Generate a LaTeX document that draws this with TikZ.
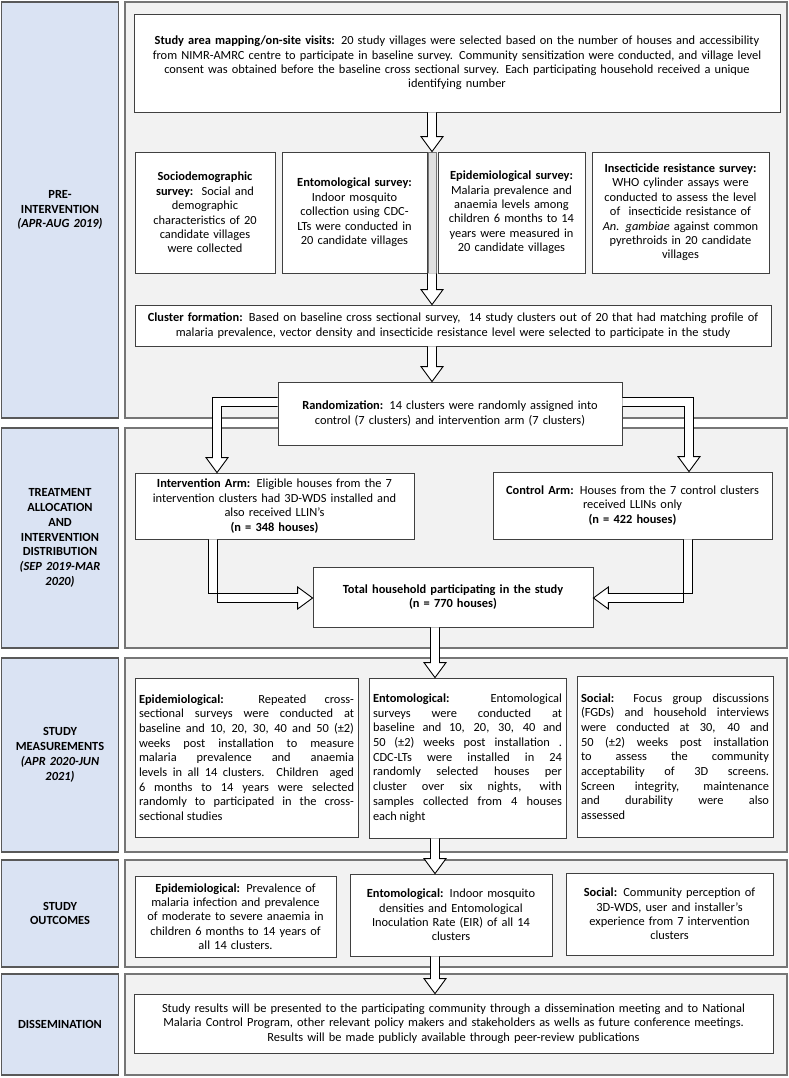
\documentclass[tikz,border=0pt]{standalone}
\usepackage{fontspec}
\setmainfont{Carlito}
\usepackage{tikz}
\usetikzlibrary{shapes,arrows,positioning,calc}
\definecolor{lanefill}{RGB}{218,227,243}
\definecolor{lanedraw}{RGB}{89,89,89}
\definecolor{panelfill}{RGB}{242,242,242}
\definecolor{paneldraw}{RGB}{118,118,118}
\definecolor{boxdraw}{RGB}{64,64,64}
% hollow block arrow pointing down, from #1 to #2 (same x)
\newcommand{\dnarrow}[2]{%
  \draw[blk] ($(#1)+(-4.5,0)$) -- ($(#2)+(-4.5,-15)$) -- ++(-6.5,0) -- (#2)
    -- ++(11,-15) -- ++(-6.5,0) -- ($(#1)+(4.5,0)$);}

\begin{document}
\begin{tikzpicture}[x=1pt, y=-1pt,
    lane/.style={draw=lanedraw, fill=lanefill, line width=1.5pt, align=center,
      text width=110pt, font=\fontsize{12.4}{14.8}\selectfont\bfseries},
    panel/.style={draw=paneldraw, fill=panelfill, line width=1.5pt},
    box/.style={draw=boxdraw, fill=white, line width=0.8pt, align=center,
      inner xsep=4pt, font=\fontsize{12.4}{14.4}\selectfont},
    jbox/.style={box, align=justify, font=\fontsize{12.4}{14.7}\selectfont,
      execute at begin node={\hyphenpenalty=10000\relax}},
    blk/.style={draw=black, fill=white, line width=0.9pt, line join=miter}]

  \useasboundingbox (0,0) rectangle (789,1078);

  % phase labels (left column)
  \node[lane, minimum width=116pt, minimum height=416pt] (l1) at (60,210)
    {PRE-\\ INTERVENTION\\ \textit{(APR-AUG 2019)}};
  \node[lane, minimum width=116pt, minimum height=220pt] (l2) at (60,538)
    {TREATMENT\\ ALLOCATION\\ AND\\ INTERVENTION\\ DISTRIBUTION\\ \textit{(SEP 2019-MAR}\\ \textit{2020)}};
  \node[lane, minimum width=116pt, minimum height=194pt] (l3) at (60,755)
    {STUDY\\ MEASUREMENTS\\ \textit{(APR 2020-JUN}\\ \textit{2021)}};
  \node[lane, minimum width=116pt, minimum height=107pt] (l4) at (60,913.5)
    {STUDY\\ OUTCOMES};
  \node[lane, minimum width=116pt, minimum height=101pt] (l5) at (60,1024.5)
    {DISSEMINATION};

  % grey panels
  \node[panel, minimum width=662pt, minimum height=416pt] (p1) at (456,210) {};
  \node[panel, minimum width=662pt, minimum height=220pt] (p2) at (456,538) {};
  \node[panel, minimum width=662pt, minimum height=194pt] (p3) at (456,755) {};
  \node[panel, minimum width=662pt, minimum height=107pt] (p4) at (456,913.5) {};
  \node[panel, minimum width=662pt, minimum height=101pt] (p5) at (456,1024.5) {};

  % pre-intervention
  \node[box, minimum width=646pt, minimum height=98pt, text width=638pt] (map) at (457,63)
    {\textbf{Study area mapping/on-site visits:} 20 study villages were selected based on the number of houses and accessibility\\
     from NIMR-AMRC centre to participate in baseline survey. Community sensitization were conducted, and village level\\
     consent was obtained before the baseline cross sectional survey. Each participating household received a unique\\
     identifying number};
  \node[box, minimum width=140pt, minimum height=121pt, text width=132pt] (socio) at (205,212.5)
    {\textbf{Sociodemographic}\\ \textbf{survey:}\ \ Social and\\ demographic\\ characteristics of 20\\ candidate villages\\ were collected};
  \node[box, minimum width=145pt, minimum height=121pt, text width=137pt] (ento) at (354.5,212.5)
    {\textbf{Entomological survey:}\\ Indoor mosquito\\ collection using CDC-\\ LTs were conducted in\\ 20 candidate villages};
  \node[draw=paneldraw, fill=black!12, line width=0.6pt, minimum width=8pt, minimum height=121pt,
    inner sep=0pt] (gap) at (432,212.5) {};
  \node[box, minimum width=147pt, minimum height=121pt, text width=139pt] (epi) at (511.5,212.5)
    {\textbf{Epidemiological survey:}\\ Malaria prevalence and\\ anaemia levels among\\ children 6 months to 14\\ years were measured in\\ 20 candidate villages};
  \node[box, minimum width=177pt, minimum height=121pt, text width=169pt] (insect) at (680.5,212.5)
    {\textbf{Insecticide resistance survey:}\\ WHO cylinder assays were\\ conducted to assess the level\\ of\ \ insecticide resistance of\\ \textit{An. gambiae} against common\\ pyrethroids in 20 candidate\\ villages};
  \node[box, minimum width=636pt, minimum height=41pt, text width=628pt] (cluster) at (453,325.5)
    {\textbf{Cluster formation:} Based on baseline cross sectional survey,\ \ 14 study clusters out of 20 that had matching profile of\\
     malaria prevalence, vector density and insecticide resistance level were selected to participate in the study};
  \node[box, minimum width=344pt, minimum height=63pt, text width=336pt] (rand) at (450,413.5)
    {\textbf{Randomization:} 14 clusters were randomly assigned into\\ control (7 clusters) and intervention arm (7 clusters)};

  % allocation
  \node[box, minimum width=279pt, minimum height=66pt, text width=271pt] (interv) at (274.5,506)
    {\textbf{Intervention Arm:} Eligible houses from the 7\\ intervention clusters had 3D-WDS installed and\\ also received LLIN’s\\ \textbf{(n = 348 houses)}};
  \node[box, minimum width=279pt, minimum height=67pt, text width=271pt] (control) at (632.5,505.5)
    {\textbf{Control Arm:} Houses from the 7 control clusters\\ received LLINs only\\ \textbf{(n = 422 houses)}};
  \node[box, minimum width=280pt, minimum height=60pt, text width=272pt] (total) at (453,597)
    {\textbf{Total household participating in the study}\\ \textbf{(n = 770 houses)}};

  % measurements
  \node[jbox, minimum width=223pt, minimum height=159pt, text width=215pt] (mepi) at (246.5,757.5)
    {\textbf{Epidemiological:} Repeated cross-\linebreak sectional surveys were conducted at\linebreak
     baseline and 10, 20, 30, 40 and 50 (±2)\linebreak weeks post installation to measure\linebreak
     malaria prevalence and anaemia\linebreak levels in all 14 clusters. Children\ \ aged\linebreak
     6 months to 14 years were selected\linebreak randomly to participated in the cross-\linebreak sectional studies};
  \node[jbox, minimum width=197pt, minimum height=160pt, text width=189pt] (mento) at (467.5,758)
    {\textbf{Entomological:} Entomological\linebreak surveys were conducted at\linebreak
     baseline and 10, 20, 30, 40 and\linebreak 50 (±2) weeks post installation .\linebreak
     CDC-LTs were installed in 24\linebreak randomly selected houses per\linebreak
     cluster over six nights, with\linebreak samples collected from 4 houses\linebreak each night};
  \node[jbox, minimum width=196pt, minimum height=161pt, text width=188pt] (msoc) at (675,756.5)
    {\textbf{Social:} Focus group discussions\linebreak (FGDs) and household interviews\linebreak
     were conducted at 30, 40 and\linebreak 50 (±2) weeks post installation\linebreak
     to assess the community\linebreak acceptability of 3D screens.\linebreak
     Screen integrity, maintenance\linebreak and durability were also\linebreak assessed};

  % outcomes
  \node[box, minimum width=201pt, minimum height=81pt, text width=193pt] (oepi) at (235.5,916.5)
    {\textbf{Epidemiological:} Prevalence of\\ malaria infection and prevalence\\ of moderate to severe anaemia in\\ children 6 months to 14 years\ of\\ all 14 clusters.};
  \node[box, minimum width=202pt, minimum height=82pt, text width=194pt] (oento) at (451,915)
    {\textbf{Entomological:} Indoor mosquito\\ densities and Entomological\\ Inoculation Rate (EIR) of all 14\\ clusters};
  \node[box, minimum width=207pt, minimum height=82pt, text width=199pt] (osoc) at (669.5,914)
    {\textbf{Social:} Community perception of\\ 3D-WDS, user and installer’s\\ experience from 7 intervention\\ clusters};

  % dissemination
  \node[box, minimum width=639pt, minimum height=59pt, text width=631pt] (dissem) at (453.5,1023.5)
    {Study results will be presented to the participating community through a dissemination meeting and to National\\
     Malaria Control Program, other relevant policy makers and stakeholders as wells as future conference meetings.\\
     Results will be made publicly available through peer-review publications};

  % block arrows
  \coordinate (ax) at (432,0);
  \coordinate (bx) at (435,0);
  \dnarrow{map.south-|ax}{socio.north-|ax}
  \dnarrow{gap.south}{cluster.north-|ax}
  \dnarrow{cluster.south-|ax}{rand.north-|ax}
  \dnarrow{total.south-|bx}{mento.north-|bx}
  \dnarrow{mento.south-|bx}{oento.north-|bx}
  \dnarrow{oento.south-|bx}{dissem.north-|bx}

  % bent arrows out of randomization
  \coordinate (lbend) at (217,402);
  \coordinate (rbend) at (689,402);
  \draw[blk] ($(rand.west|-lbend)+(0,-4.5)$) -| ($(interv.north-|lbend)+(-4.5,-15)$) -- ++(-6.5,0)
    -- (interv.north-|lbend) -- ++(11,-15) -- ++(-6.5,0) |- ($(rand.west|-lbend)+(0,4.5)$);
  \draw[blk] ($(rand.east|-rbend)+(0,-4.5)$) -| ($(control.north-|rbend)+(4.5,-15)$) -- ++(6.5,0)
    -- (control.north-|rbend) -- ++(-11,-15) -- ++(6.5,0) |- ($(rand.east|-rbend)+(0,4.5)$);

  % bent arrows into total
  \coordinate (lmeet) at (213,598);
  \coordinate (rmeet) at (688,598);
  \draw[blk] ($(interv.south-|lmeet)+(-4.5,0)$) |- ($(total.west|-lmeet)+(-15,-4.5)$) -- ++(0,-6.5)
    -- (total.west|-lmeet) -- ++(-15,11) -- ++(0,-6.5) -| ($(interv.south-|lmeet)+(4.5,0)$);
  \draw[blk] ($(control.south-|rmeet)+(4.5,0)$) |- ($(total.east|-rmeet)+(15,-4.5)$) -- ++(0,-6.5)
    -- (total.east|-rmeet) -- ++(15,11) -- ++(0,-6.5) -| ($(control.south-|rmeet)+(-4.5,0)$);
\end{tikzpicture}
\end{document}
